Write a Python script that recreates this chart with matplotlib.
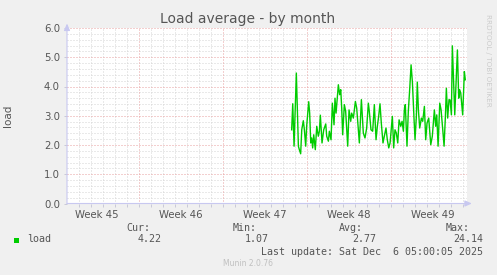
import matplotlib
matplotlib.use('Agg')
import matplotlib.pyplot as plt
from matplotlib.patches import Rectangle

# Munin "load" by month, time in days from the left edge of the graph
days = [18.72, 18.81, 18.92, 19.11, 19.28, 19.36, 19.47, 19.56, 19.69, 19.78,
        19.89, 19.97, 20.14, 20.22, 20.31, 20.39, 20.47, 20.56, 20.69, 20.81,
        20.94, 21.03, 21.11, 21.25, 21.39, 21.56, 21.64, 21.78, 21.86, 22.00,
        22.11, 22.25, 22.33, 22.42, 22.61, 22.72, 22.81, 22.89, 22.97, 23.11,
        23.22, 23.39, 23.50, 23.64, 23.72, 23.86, 24.03, 24.14, 24.36, 24.53,
        24.69, 24.83, 24.97, 25.11, 25.19, 25.33, 25.47, 25.61, 25.75, 25.86,
        25.97, 26.08, 26.19, 26.33, 26.44, 26.58, 26.69, 26.81, 26.92, 27.11,
        27.22, 27.33, 27.44, 27.56, 27.67, 27.81, 27.92, 28.03, 28.11, 28.19,
        28.33, 28.44, 28.56, 28.67, 28.78, 28.92, 29.00, 29.11, 29.19, 29.28,
        29.39, 29.53, 29.64, 29.78, 29.89, 30.00, 30.14, 30.31, 30.44, 30.61,
        30.72, 30.81, 30.92, 31.06, 31.17, 31.31, 31.42, 31.53, 31.61, 31.72,
        31.83, 31.92, 32.03, 32.11, 32.31, 32.53, 32.64, 32.72, 32.81, 32.97,
        33.11, 33.19]
load = [2.52, 3.41, 1.96, 4.46, 1.96, 1.84, 1.70, 2.52, 2.83, 2.52,
        1.96, 2.64, 3.48, 3.09, 2.07, 2.24, 1.90, 2.35, 1.84, 2.64,
        2.30, 2.47, 3.02, 2.07, 2.52, 2.72, 2.30, 2.13, 2.47, 2.18,
        3.43, 2.69, 3.60, 3.09, 4.06, 3.72, 3.89, 3.26, 2.35, 3.38,
        3.15, 1.96, 3.20, 2.81, 3.09, 2.92, 3.49, 3.26, 2.07, 3.55,
        2.41, 2.24, 2.58, 3.43, 3.15, 2.52, 2.47, 3.38, 2.18, 2.64,
        2.98, 3.41, 2.75, 2.07, 2.30, 2.58, 2.18, 1.90, 2.07, 2.98,
        1.90, 2.52, 2.41, 2.07, 2.86, 2.64, 2.81, 2.47, 3.20, 3.38,
        1.96, 3.15, 3.94, 4.74, 4.15, 2.86, 2.18, 2.98, 4.15, 3.20,
        2.58, 2.92, 2.81, 3.32, 2.18, 2.75, 2.92, 2.01, 2.30, 3.20,
        2.64, 3.03, 1.96, 3.43, 3.20, 2.52, 1.96, 2.98, 3.94, 2.92,
        3.55, 3.54, 3.03, 5.39, 3.03, 5.25, 3.60, 3.89, 3.77, 3.03,
        4.51, 4.23]

week_labels = ['Week 45', 'Week 46', 'Week 47', 'Week 48', 'Week 49']
week_starts = [6, 13, 20, 27]
stat_names = ['Cur:', 'Min:', 'Avg:', 'Max:']
stat_values = ['4.22', '1.07', '2.77', '24.14']

W, H = 497, 275
fig = plt.figure(figsize=(W / 100, H / 100), dpi=100, facecolor='#F0F0F0')


def px(x, y):
    return x / W, 1 - y / H


ax = fig.add_axes([67 / W, 1 - 203.5 / H, 400 / W, 175.5 / H])
ax.set_facecolor('white')
ax.set_xlim(0, 33.33)
ax.set_ylim(0, 6)

minor_col = '#d4d4d4'
major_col = '#e8a0a0'
dot = (0, (1, 2))
for d in range(1, 34):
    if d not in week_starts:
        ax.axvline(d, color=minor_col, lw=0.72, ls=dot, zorder=1)
for i in range(1, 30):
    if i % 5:
        ax.axhline(i * 0.2, color=minor_col, lw=0.72, ls=dot, zorder=1)
for d in week_starts:
    ax.axvline(d, color=major_col, lw=0.72, ls=dot, zorder=2)
for v in range(1, 7):
    ax.axhline(v, color=major_col, lw=0.72, ls=dot, zorder=2)

ax.plot(days, load, color='#00CC00', lw=1.0, zorder=3)

for s in ax.spines.values():
    s.set_visible(False)

ax.set_yticks(range(7))
ax.set_yticklabels([f'{v:.1f}' for v in range(7)])
ax.set_xticks([w - 3.5 for w in week_starts] + [week_starts[-1] + 3.5])
ax.set_xticklabels(week_labels)
ax.set_xticks(range(1, 34), minor=True)
ax.tick_params(axis='x', which='major', length=0, pad=5, labelsize=7.3, labelcolor='#555555')
ax.tick_params(axis='x', which='minor', length=2, color='#c8c8d8', width=0.7)
ax.tick_params(axis='y', length=2, color='#c8c8d8', width=0.7, pad=3,
               labelsize=7.3, labelcolor='#555555')
ax.set_ylabel('load', fontsize=7.5, color='#555555', labelpad=22)

axis_col = '#c8c8f0'
for end in [(1.012, 0), (0, 1.025)]:
    ax.annotate('', xy=end, xytext=(0, 0), xycoords='axes fraction',
                arrowprops=dict(arrowstyle='-|>,head_length=0.4,head_width=0.18',
                                color=axis_col, lw=0.8, shrinkA=0, shrinkB=0))

fig.text(*px(248, 19), 'Load average - by month', ha='center', va='center',
         fontsize=10, color='#555555')
fig.text(*px(488, 14), 'RRDTOOL / TOBI OETIKER', rotation=270, ha='center', va='top',
         fontsize=5.2, color='#cccccc')

mono = dict(family='DejaVu Sans Mono', fontsize=7.2, color='#555555')
fig.patches.append(Rectangle(px(14, 243), 5 / W, 5 / H, transform=fig.transFigure,
                             facecolor='#00CC00', edgecolor='none'))
fig.text(*px(27, 239.5), 'load', ha='left', va='center', **mono)
for name, val, xn, xv in zip(stat_names, stat_values, [150, 257, 363, 470],
                             [162, 269, 376, 483]):
    fig.text(*px(xn, 228), name, ha='right', va='center', **mono)
    fig.text(*px(xv, 239.5), val, ha='right', va='center', **mono)
fig.text(*px(483, 252), 'Last update: Sat Dec  6 05:00:05 2025', ha='right',
         va='center', **mono)
fig.text(*px(248, 264), 'Munin 2.0.76', ha='center', va='center',
         fontsize=5.5, color='#c0c0c0')

fig.savefig('out.png', dpi=100, facecolor=fig.get_facecolor())
